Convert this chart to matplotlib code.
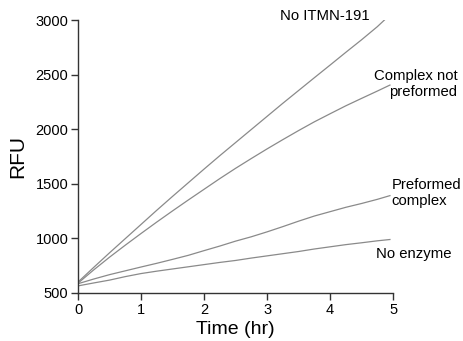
import numpy as np
import matplotlib
matplotlib.use("Agg")
import matplotlib.pyplot as plt

plt.rcParams['font.family'] = ['Liberation Sans', 'DejaVu Sans']

# time points (hr)
t_main = [0, 0.25, 0.5, 0.75, 1, 1.25, 1.5, 1.75, 2, 2.25, 2.5, 2.75, 3,
          3.25, 3.5, 3.75, 4, 4.25, 4.5, 4.75]
t_top = t_main + [4.87]
t_rest = t_main + [4.95]

no_itmn = [600, 735, 868, 998, 1128, 1258, 1385, 1510, 1635, 1758, 1878, 1998,
           2118, 2238, 2355, 2472, 2588, 2705, 2820, 2940, 3005]
not_preformed = [590, 712, 828, 938, 1045, 1150, 1252, 1352, 1450, 1548, 1642,
                 1732, 1820, 1905, 1988, 2068, 2142, 2215, 2283, 2350, 2405]
preformed = [585, 628, 668, 703, 738, 772, 808, 845, 888, 930, 975, 1015, 1060,
             1108, 1158, 1205, 1245, 1285, 1320, 1358, 1392]
no_enzyme = [565, 592, 618, 650, 678, 700, 720, 740, 760, 780, 798, 820, 840,
             860, 880, 903, 923, 943, 960, 978, 990]

line_color = "#8a8a8a"

fig = plt.figure(figsize=(4.63, 3.41), dpi=100)
ax = fig.add_axes([0.1685, 0.1408, 0.6805, 0.8002])

ax.plot(t_top, no_itmn, color=line_color, lw=0.9)
ax.plot(t_rest, not_preformed, color=line_color, lw=0.9)
ax.plot(t_rest, preformed, color=line_color, lw=0.9)
ax.plot(t_rest, no_enzyme, color=line_color, lw=0.9)

ax.set_xlim(0, 5)
ax.set_ylim(500, 3000)
ax.set_xticks([0, 1, 2, 3, 4, 5])
ax.set_yticks([500, 1000, 1500, 2000, 2500, 3000])

for side in ["top", "right"]:
    ax.spines[side].set_visible(False)
for side in ["left", "bottom"]:
    ax.spines[side].set_color("#333333")
    ax.spines[side].set_linewidth(1)

ax.tick_params(direction="out", length=5, width=1, color="#333333",
               labelsize=10.5, pad=2)

ax.set_xlabel("Time (hr)", fontsize=14, labelpad=3)
ax.set_ylabel("RFU", fontsize=15, labelpad=6)

ax.text(4.63, 3037, "No ITMN-191", ha="right", va="center", fontsize=10.7, clip_on=False)
ax.text(6.02, 2414, "Complex not\npreformed", ha="right", va="center",
        multialignment="right", fontsize=10.7, linespacing=1.2, clip_on=False)
ax.text(4.98, 1416, "Preformed\ncomplex", ha="left", va="center",
        fontsize=10.7, linespacing=1.2, clip_on=False)
ax.text(4.73, 857, "No enzyme", ha="left", va="center", fontsize=10.7, clip_on=False)

fig.savefig("out.png", dpi=100)
